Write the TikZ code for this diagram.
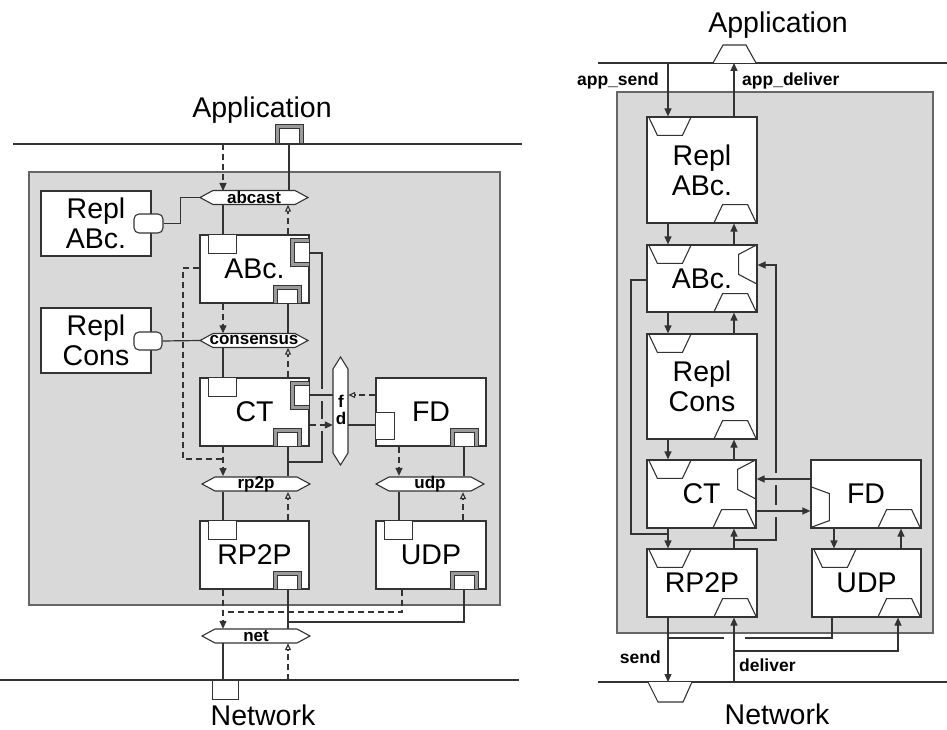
\documentclass[tikz,border=0pt]{standalone}
\usepackage{fontspec}
\setmainfont{Liberation Sans}
\usetikzlibrary{arrows.meta,calc}
\definecolor{bg}{HTML}{D9D9D9}
\definecolor{ln}{HTML}{333333}
\definecolor{pg}{HTML}{9A9A9A}
\tikzset{
 big/.style={font=\fontsize{28.5}{30}\selectfont},
 lab/.style={font=\fontsize{17}{19}\selectfont\bfseries},
 rlab/.style={font=\fontsize{17.5}{19}\selectfont\bfseries, inner sep=0pt},
 box/.style={draw=ln, fill=white, line width=1.2pt, inner sep=0pt, align=center, big},
 gbox/.style={fill=bg, draw=black!60, line width=1.5pt},
 wire/.style={draw=ln, line width=1.2pt},
 dwire/.style={wire, dash pattern=on 6pt off 4pt},
 sh/.style={-{Triangle[length=8pt,width=7pt]}},
 oh/.style={-{Triangle[open,length=7pt,width=6pt,fill=white]}},
 hexs/.style={draw=ln, fill=white, line width=1.1pt},
 hexlab/.style={lab, inner sep=0pt},
 portbox/.style={draw=ln, fill=white, line width=1pt},
 dpo/.style={draw=ln, fill=pg, line width=1pt},
 dpi/.style={draw=ln, fill=white, line width=1pt},
 trap/.style={draw=ln, line width=1.1pt},
 rport/.style={draw=ln, fill=white, line width=1.1pt, rounded corners=5pt, inner sep=0pt},
 lbl/.style={inner sep=0pt}
}
% hexagon: name, cx, cy, width, text
\newcommand{\hexh}[5]{%
 \draw[hexs] ({#2-#4/2},#3) -- ({#2-#4/2+13},{#3-7}) -- ({#2+#4/2-13},{#3-7}) -- ({#2+#4/2},#3) -- ({#2+#4/2-13},{#3+7}) -- ({#2-#4/2+13},{#3+7}) -- cycle;
 \node[hexlab, minimum width=#4pt, minimum height=14pt] (#1) at (#2,#3) {#5};}
% left-diagram ports
\newcommand{\tlbox}[1]{\draw[portbox] ($(#1.north west)+(9,0)$) rectangle ($(#1.north west)+(37,19)$);}
\newcommand{\dpbot}[1]{%
 \draw[dpo] ($(#1.south east)+(-36,-18)$) rectangle ($(#1.south east)+(-8,0)$);
 \draw[dpi] ($(#1.south east)+(-32,-14)$) rectangle ($(#1.south east)+(-12,0)$);}
\newcommand{\dpright}[1]{%
 \draw[dpo] ($(#1.north east)+(-19,4)$) rectangle ($(#1.north east)+(0,32)$);
 \draw[dpi] ($(#1.north east)+(-15,8)$) rectangle ($(#1.north east)+(0,28)$);}
% right-diagram ports
\newcommand{\tdown}[1]{\draw[trap] ($(#1.north west)+(2,0)$) -- ($(#1.north west)+(11,19)$) -- ($(#1.north west)+(36,19)$) -- ($(#1.north west)+(45,0)$);}
\newcommand{\tup}[1]{\draw[trap] ($(#1.south east)+(-44,0)$) -- ($(#1.south east)+(-35,-19)$) -- ($(#1.south east)+(-10,-19)$) -- ($(#1.south east)+(-1,0)$);}
\newcommand{\tright}[1]{\draw[trap] ($(#1.north east)+(0,0)$) -- ($(#1.north east)+(-19,10)$) -- ($(#1.north east)+(-19,30)$) -- ($(#1.north east)+(0,40)$);}
\newcommand{\tleftlow}[1]{\draw[trap] ($(#1.south west)+(0,-42)$) -- ($(#1.south west)+(19,-35)$) -- ($(#1.south west)+(19,-8)$) -- ($(#1.south west)+(0,-1)$);}
\begin{document}
\begin{tikzpicture}[x=1pt,y=-1pt]
\useasboundingbox (0,0) rectangle (947,730);
% ================= LEFT =================
\draw[gbox] (29,172) rectangle (500,605);
\draw[wire] (13,144) -- (522,144);
\draw[wire] (0,680) -- (519,680);
\node[big] (appLt) at (262,110) {Application};
\node[big] (netLt) at (263,715) {Network};
\coordinate (lTopA) at (223,144);
\coordinate (lTopB) at (289,144);
\coordinate (lBotA) at (223,680);
\coordinate (lBotB) at (288,680);
% app port (double)
\draw[dpo] (275,125) rectangle (303,144);
\draw[dpi] (279,129) rectangle (299,144);
% network port
\draw[portbox] (212,680) rectangle (238,699);

% boxes
\node[box, minimum width=110pt, minimum height=65pt] (rabcL) at (96,223.5) {Repl\\ABc.};
\node[box, minimum width=110pt, minimum height=65pt] (rconsL) at (96,340.5) {Repl\\Cons};
\node[rport, minimum width=29pt, minimum height=19pt] (rabcLp) at (148.5,223.5) {};
\node[rport, minimum width=28pt, minimum height=18pt] (rconsLp) at (148,341) {};

% connectors (before boxes so boxes sit on top)
\draw[wire] (lTopB) -- (lTopB |- 0,191);
\draw[dwire, sh] (lTopA) -- (lTopA |- 0,191);
\draw[wire] (rabcLp.east) -- ++(17,0) |- (200,197.5);

\hexh{abcast}{254}{197.5}{108}{abcast}
\hexh{consensus}{254}{340.5}{108}{consensus}
\hexh{rptp}{256}{484}{108}{rp2p}
\hexh{udp}{430}{484}{108}{udp}
\hexh{net}{256}{636}{108}{net}

\node[box, minimum width=109pt, minimum height=68pt] (abcL) at (254.5,269) {ABc.};
\node[box, minimum width=109pt, minimum height=68pt] (ctL) at (254.5,412) {CT};
\node[box, minimum width=110pt, minimum height=68pt] (fdL) at (431,412) {FD};
\node[box, minimum width=109pt, minimum height=68pt] (rptpL) at (254.5,555) {RP2P};
\node[box, minimum width=110pt, minimum height=68pt] (udpL) at (431,555) {UDP};

% fd hexagon
\draw[hexs] (340.5,357) -- (348,369) -- (348,453) -- (340.5,465) -- (333,453) -- (333,369) -- cycle;
\node[hexlab, minimum width=15pt, minimum height=108pt] (fd) at (340.5,411) {};
\node[hexlab] (fdf) at (341,401) {f};
\node[hexlab] (fdd) at (341,418) {d};

% ports on boxes
\tlbox{abcL}\dpright{abcL}\dpbot{abcL}
\tlbox{ctL}\dpright{ctL}\dpbot{ctL}
\tlbox{rptpL}\dpbot{rptpL}
\tlbox{udpL}\dpbot{udpL}
\dpbot{fdL}
\draw[portbox] (fdL.west |- 0,412) rectangle (394,439);

\draw[wire] (rconsLp.east) -- (consensus.west);
\draw[wire] (223,0 |- abcast.south) -- (223,0 |- abcL.north);
\draw[dwire, oh] (288,0 |- abcL.north) -- (288,0 |- abcast.south);
% ABc right port feedback
\coordinate (ctj) at (288,462);
\draw[wire] (abcL.east |- 0,253) -- (322,253) -- (322,389);
\draw[wire] (322,401) -- (322,419);
\draw[wire] (322,431) -- (322,462) -- (ctj);
% ABc left dashed
\coordinate (ctjd) at (223,459);
\draw[dwire] (abcL.west |- 0,268) -- (183,268) -- (183,459) -- (ctjd);
\draw[dwire, sh] (223,0 |- abcL.south) -- (223,0 |- consensus.north);
\draw[wire] (288,0 |- abcL.south) -- (288,0 |- consensus.north);
\draw[wire] (223,0 |- consensus.south) -- (223,0 |- ctL.north);
\draw[dwire, oh] (288,0 |- ctL.north) -- (288,0 |- consensus.south);
% CT <-> fd <-> FD
\draw[wire] (ctL.east |- 0,395) -- (fd.west |- 0,395);
\draw[dwire, oh] (fdL.west |- 0,395) -- (fd.east |- 0,395);
\draw[dwire, sh] (ctL.east |- 0,425) -- (fd.west |- 0,425);
\draw[wire] (fdL.west |- 0,425) -- (fd.east |- 0,425);
% to rp2p / udp
\draw[dwire, sh] (223,0 |- ctL.south) -- (223,0 |- rptp.north);
\draw[wire] (288,0 |- ctL.south) -- (288,0 |- rptp.north);
\draw[dwire, sh] (399,0 |- fdL.south) -- (399,0 |- udp.north);
\draw[wire] (464,0 |- fdL.south) -- (464,0 |- udp.north);
\draw[wire] (223,0 |- rptp.south) -- (223,0 |- rptpL.north);
\draw[dwire, oh] (288,0 |- rptpL.north) -- (288,0 |- rptp.south);
\draw[wire] (399,0 |- udp.south) -- (399,0 |- udpL.north);
\draw[dwire, oh] (463,0 |- udpL.north) -- (463,0 |- udp.south);
% to net
\draw[dwire, sh] (223,0 |- rptpL.south) -- (223,0 |- net.north);
\draw[dwire] (402,0 |- udpL.south) -- (402,612) -- (223,612);
\draw[wire] (288,0 |- rptpL.south) -- (288,0 |- net.north);
\draw[wire] (464,0 |- udpL.south) -- (464,622) -- (288,622);
\draw[wire] (223,0 |- net.south) -- (lBotA);
\draw[dwire, oh] (lBotB) -- (lBotB |- net.south);

% ================= RIGHT =================
\draw[gbox] (617,92) rectangle (933,633);
\draw[wire] (598,63) -- (947,63);
\draw[wire] (598,682) -- (947,682);
\node[big] (appRt) at (778,25) {Application};
\node[big] (netRt) at (777,714) {Network};
\draw[trap, fill=white] (713,63) -- (723,45) -- (746,45) -- (756,63);
\draw[trap, fill=white] (648,682) -- (658,702) -- (683,702) -- (692,682);
\coordinate (rTop1) at (668,63);
\coordinate (rTop2) at (734,63);
\coordinate (rBot1) at (668,682);
\coordinate (rBot2) at (734,682);

\node[box, minimum width=110pt, minimum height=106pt] (rabcR) at (702,170) {Repl\\ABc.};
\node[box, minimum width=110pt, minimum height=67pt] (abcR) at (702,278.5) {ABc.};
\node[box, minimum width=110pt, minimum height=105pt] (rconsR) at (702,386.5) {Repl\\Cons};
\node[box, minimum width=109pt, minimum height=68pt] (ctR) at (701.5,494) {CT};
\node[box, minimum width=110pt, minimum height=68pt] (fdR) at (866,494) {FD};
\node[box, minimum width=110pt, minimum height=68pt] (rptpR) at (702,583) {RP2P};
\node[box, minimum width=109pt, minimum height=68pt] (udpR) at (866.5,583) {UDP};

\tdown{rabcR}\tup{rabcR}
\tdown{abcR}\tup{abcR}\tright{abcR}
\tdown{rconsR}\tup{rconsR}
\tdown{ctR}\tup{ctR}\tright{ctR}
\tup{fdR}\tleftlow{fdR}
\tdown{rptpR}\tup{rptpR}
\tdown{udpR}\tup{udpR}

% app_send / app_deliver
\draw[wire, sh] (rTop1) -- (rTop1 |- rabcR.north);
\draw[wire, sh] (734,0 |- rabcR.north) -- (rTop2);
\node[rlab, anchor=east] (lsend) at (659,81) {app\_send};
\node[rlab, anchor=west] (ldeliver) at (742,81) {app\_deliver};
% stack arrows
\draw[wire, sh] (668,0 |- rabcR.south) -- (668,0 |- abcR.north);
\draw[wire, sh] (734,0 |- abcR.north) -- (734,0 |- rabcR.south);
\draw[wire, sh] (668,0 |- abcR.south) -- (668,0 |- rconsR.north);
\draw[wire, sh] (734,0 |- rconsR.north) -- (734,0 |- abcR.south);
\draw[wire, sh] (668,0 |- rconsR.south) -- (668,0 |- ctR.north);
\draw[wire, sh] (734,0 |- ctR.north) -- (734,0 |- rconsR.south);
\draw[wire, sh] (668,0 |- ctR.south) -- (668,0 |- rptpR.north);
\draw[wire, sh] (734,0 |- rptpR.north) -- (734,0 |- ctR.south);
\draw[wire, sh] (834,0 |- fdR.south) -- (834,0 |- udpR.north);
\draw[wire, sh] (901,0 |- udpR.north) -- (901,0 |- fdR.south);
% feedback into ABc right port
\coordinate (rj1) at (734,540);
\draw[wire] (rj1) -- (776,540) -- (776,517);
\draw[wire] (776,505) -- (776,485);
\draw[wire, sh] (776,473) -- (776,265) -- (abcR.east |- 0,265);
% ABc left line
\coordinate (rj2) at (668,534);
\draw[wire] (abcR.west |- 0,280) -- (631,280) -- (631,534) -- (rj2);
% CT <-> FD
\draw[wire, sh] (fdR.west |- 0,479) -- (ctR.east |- 0,479);
\draw[wire, sh] (ctR.east |- 0,511) -- (fdR.west |- 0,511);
% send / deliver
\draw[wire, sh] (668,0 |- rptpR.south) -- (rBot1);
\coordinate (rj3) at (668,638);
\draw[wire] (832,0 |- udpR.south) -- (832,638) -- (745,638);
\draw[wire] (724,638) -- (rj3);
\draw[wire, sh] (rBot2) -- (734,0 |- rptpR.south);
\coordinate (rj4) at (734,651);
\draw[wire, sh] (rj4) -- (898,651) -- (898,0 |- udpR.south);
\node[rlab, anchor=east] (lsnd) at (661,657) {send};
\node[rlab, anchor=west] (ldlv) at (739,665) {deliver};
\end{tikzpicture}
\end{document}
